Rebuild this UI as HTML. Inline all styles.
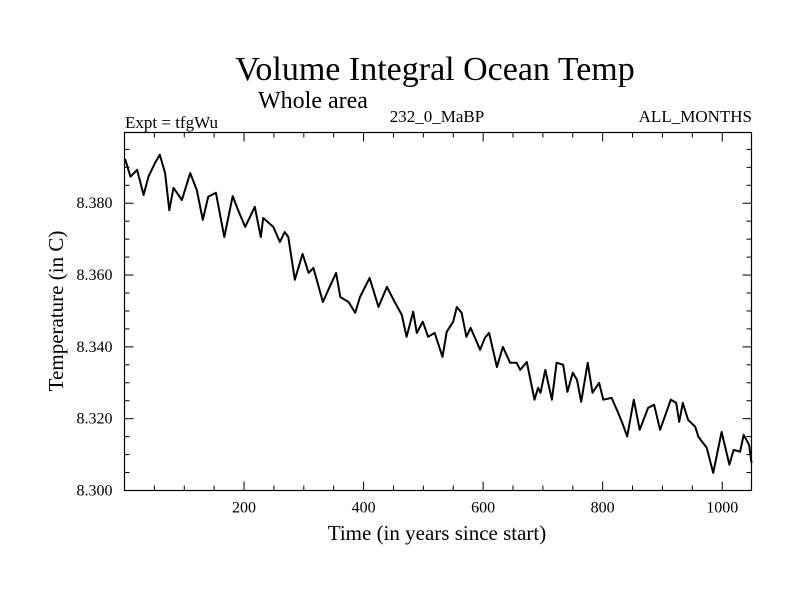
<!DOCTYPE html>
<html><head><meta charset="utf-8"><style>
body{margin:0;background:#fff;}
svg text{font-family:"Liberation Serif",serif;fill:#000;}
</style></head><body>
<svg id="chart" width="800" height="600">
<text x="435" y="80" font-size="34" text-anchor="middle">Volume Integral Ocean Temp</text>
<text x="313" y="108" font-size="24" text-anchor="middle">Whole area</text>
<text x="125" y="128" font-size="17">Expt = tfgWu</text>
<text x="437" y="122" font-size="17" text-anchor="middle">232_0_MaBP</text>
<text x="752" y="122" font-size="17" text-anchor="end">ALL_MONTHS</text>
<text transform="translate(63,311) rotate(-90)" font-size="21" text-anchor="middle">Temperature (in C)</text>
<text x="437" y="540" font-size="21" text-anchor="middle">Time (in years since start)</text>
<g id="axes"></g>
<path id="line" fill="none" stroke="#000" stroke-width="2" stroke-linejoin="round"/>
<rect x="124.5" y="132.5" width="627" height="358" fill="none" stroke="#000" stroke-width="1.2"/>
</svg>
<script>
const years=[1,10,21,32,40,51,59,68,75,82,96,110,121,131,140,153,167,181,190,202,218,228,232,249,260,268,274,285,298,308,316,332,341,354,361,375,386,394,410,425,439,452,464,472,483,489,499,508,519,532,539,550,556,564,572,579,595,603,610,623,633,645,656,662,673,686,692,696,704,715,723,734,741,750,757,764,775,783,794,801,815,826,834,841,852,862,876,886,896,914,923,928,934,943,955,960,974,985,999,1012,1019,1030,1036,1045,1049];
const temps=[8.3923,8.3874,8.3893,8.3823,8.3874,8.3912,8.3935,8.3884,8.3781,8.3843,8.3809,8.3884,8.3837,8.3754,8.3818,8.3829,8.3706,8.3820,8.3781,8.3734,8.3790,8.3706,8.3759,8.3734,8.3692,8.3720,8.3706,8.3587,8.3659,8.3606,8.3620,8.3525,8.3559,8.3606,8.3539,8.3525,8.3495,8.3539,8.3592,8.3511,8.3567,8.3525,8.3489,8.3428,8.3498,8.3439,8.3470,8.3428,8.3439,8.3372,8.3442,8.3470,8.3511,8.3495,8.3428,8.3453,8.3392,8.3425,8.3439,8.3344,8.3400,8.3356,8.3356,8.3336,8.3358,8.3253,8.3286,8.3272,8.3336,8.3253,8.3356,8.3350,8.3275,8.3328,8.3308,8.3247,8.3356,8.3272,8.3300,8.3253,8.3258,8.3216,8.3183,8.3150,8.3253,8.3169,8.3230,8.3239,8.3169,8.3253,8.3244,8.3191,8.3244,8.3197,8.3177,8.3150,8.3119,8.3049,8.3163,8.3072,8.3113,8.3108,8.3155,8.3127,8.3077];
const xTicks=[200,400,600,800,1000];
const yTicks=[8.300,8.320,8.340,8.360,8.380];
const L=124.5,R=751.5,T=132.5,B=490.5,X0=0,X1=1049,Y0=8.300,Y1=8.3997;
const xs=v=>L+(v-X0)/(X1-X0)*(R-L);
const ys=v=>B-(v-Y0)/(Y1-Y0)*(B-T);
const NS='http://www.w3.org/2000/svg';
const ax=document.getElementById('axes');
function ln(x1,y1,x2,y2){const l=document.createElementNS(NS,'line');l.setAttribute('x1',x1);l.setAttribute('y1',y1);l.setAttribute('x2',x2);l.setAttribute('y2',y2);l.setAttribute('stroke','#000');l.setAttribute('stroke-width','1');


ax.appendChild(l);}
for(let v=50;v<X1;v+=50){const x=xs(v);const len=v%200===0?9:5;ln(x,B,x,B-len);ln(x,T,x,T+len);}
for(let i=1;i<20;i++){const v=Y0+i*0.005;const y=ys(v);const len=i%4===0?9:5;ln(L,y,L+len,y);ln(R,y,R-len,y);}
xTicks.forEach(v=>{const t=document.createElementNS(NS,'text');t.setAttribute('x',xs(v));t.setAttribute('y',B+22);t.setAttribute('font-size','16');t.setAttribute('text-anchor','middle');t.textContent=v;


ax.appendChild(t);});
yTicks.forEach(v=>{const t=document.createElementNS(NS,'text');t.setAttribute('x',L-12);t.setAttribute('y',ys(v)+5);t.setAttribute('font-size','16');t.setAttribute('text-anchor','end');t.textContent=v.toFixed(3);


ax.appendChild(t);});
document.getElementById('line').setAttribute('d',years.map((y,i)=>(i?'L':'M')+xs(y).toFixed(1)+' '+ys(temps[i]).toFixed(1)).join(' '));
</script>
</body></html>
